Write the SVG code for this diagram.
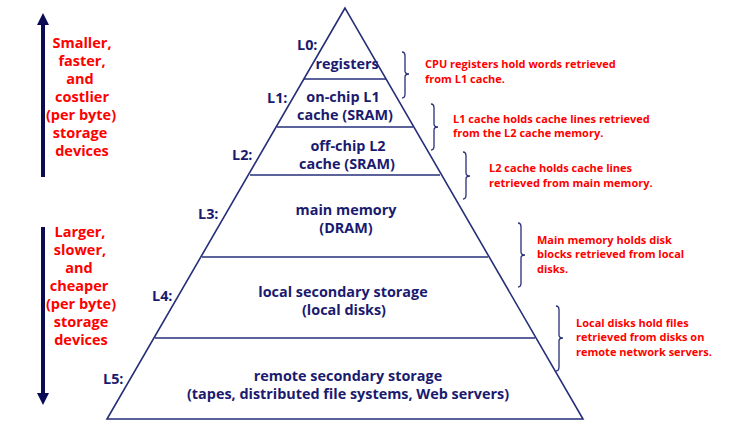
<svg xmlns="http://www.w3.org/2000/svg" width="746" height="433" viewBox="0 0 746 433">
<style>
.lvl{font-family:"Open Sans",Lato,"Liberation Sans",sans-serif;font-weight:700;font-size:14.4px;fill:#1a1a6e;text-anchor:middle}
.lab{font-family:"Open Sans",Lato,"Liberation Sans",sans-serif;font-weight:700;font-size:14.4px;fill:#1a1a6e}
.side{font-family:"Open Sans",Lato,"Liberation Sans",sans-serif;font-weight:700;font-size:14.5px;fill:#ff0000;text-anchor:middle}
.note{font-family:"Open Sans",Lato,"Liberation Sans",sans-serif;font-weight:700;font-size:11px;fill:#ff0000}
.edge{stroke:#262f78;stroke-width:1.6;fill:none}
.brace{stroke:#262f78;stroke-width:1.3;fill:none}
.arr{stroke:#0a0a55;stroke-width:4;fill:none}
</style>
<defs>
<marker id="ah" markerWidth="3" markerHeight="3" refX="0.5" refY="1.5" orient="auto" markerUnits="strokeWidth">
<path d="M0,0 L3,1.5 L0,3 Z" fill="#0a0a55"/>
</marker>
</defs>
<rect width="746" height="433" fill="#fff"/>
<g id="pyramid">
<path class="edge" d="M345,8 L107,419 L583,419 Z"/>
</g>
<g id="L0">
<text class="lab" x="297" y="50">L0:</text>
<text class="lvl" x="347" y="69">registers</text>
<line class="edge" x1="304" y1="79" x2="386" y2="79"/>
</g>
<g id="L1">
<text class="lab" x="267" y="103">L1:</text>
<text class="lvl" x="343" y="102">on-chip L1</text>
<text class="lvl" x="345" y="120">cache (SRAM)</text>
<line class="edge" x1="277" y1="127" x2="413" y2="127"/>
</g>
<g id="L2">
<text class="lab" x="232" y="160">L2:</text>
<text class="lvl" x="348" y="151">off-chip L2</text>
<text class="lvl" x="347" y="169">cache (SRAM)</text>
<line class="edge" x1="250" y1="175" x2="440" y2="175"/>
</g>
<g id="L3">
<text class="lab" x="198" y="219">L3:</text>
<text class="lvl" x="346" y="215">main memory</text>
<text class="lvl" x="346" y="233">(DRAM)</text>
<line class="edge" x1="202" y1="257" x2="488" y2="257"/>
</g>
<g id="L4">
<text class="lab" x="152" y="301">L4:</text>
<text class="lvl" x="343" y="297">local secondary storage</text>
<text class="lvl" x="344" y="315">(local disks)</text>
<line class="edge" x1="155" y1="338" x2="535" y2="338"/>
</g>
<g id="L5">
<text class="lab" x="103" y="384">L5:</text>
<text class="lvl" x="348" y="381">remote secondary storage</text>
<text class="lvl" x="348" y="399">(tapes, distributed file systems, Web servers)</text>
</g>
<g id="connectors">
<line class="arr" x1="43" y1="177" x2="43" y2="23" marker-end="url(#ah)"/>
<line class="arr" x1="43" y1="227" x2="43" y2="395" marker-end="url(#ah)"/>
<path class="brace" d="M402,52 Q405,52 405,56 L405,71 Q405,74 409,74 Q405,74 405,77 L405,94 Q405,98 402,98"/>
<path class="brace" d="M431,104 Q434,104 434,108 L434,124 Q434,127 438,127 Q434,127 434,130 L434,146 Q434,150 431,150"/>
<path class="brace" d="M463,152 Q466,152 466,156 L466,173 Q466,176 470,176 Q466,176 466,179 L466,195 Q466,199 463,199"/>
<path class="brace" d="M518,223 Q521,223 521,227 L521,252 Q521,255 525,255 Q521,255 521,258 L521,283 Q521,287 518,287"/>
<path class="brace" d="M556,306 Q559,306 559,310 L559,335 Q559,338 563,338 Q559,338 559,341 L559,367 Q559,371 556,371"/>
</g>
<g id="side-top">
<text class="side" x="82" y="48">Smaller,</text>
<text class="side" x="82" y="66">faster,</text>
<text class="side" x="80" y="84">and</text>
<text class="side" x="82" y="102">costlier</text>
<text class="side" x="81" y="120">(per byte)</text>
<text class="side" x="80" y="138">storage</text>
<text class="side" x="82" y="156">devices</text>
</g>
<g id="side-bottom">
<text class="side" x="80" y="237">Larger,</text>
<text class="side" x="80" y="255">slower,</text>
<text class="side" x="79" y="273">and</text>
<text class="side" x="79" y="291">cheaper</text>
<text class="side" x="81" y="309">(per byte)</text>
<text class="side" x="81" y="327">storage</text>
<text class="side" x="81" y="345">devices</text>
</g>
<g id="notes">
<text class="note" x="425" y="68">CPU registers hold words retrieved</text>
<text class="note" x="425" y="83">from L1 cache.</text>
<text class="note" x="453" y="123">L1 cache holds cache lines retrieved</text>
<text class="note" x="453" y="137">from the L2 cache memory.</text>
<text class="note" x="489" y="172">L2 cache holds cache lines</text>
<text class="note" x="489" y="187">retrieved from main memory.</text>
<text class="note" x="537" y="244">Main memory holds disk</text>
<text class="note" x="537" y="258">blocks retrieved from local</text>
<text class="note" x="537" y="273">disks.</text>
<text class="note" x="576" y="327">Local disks hold files</text>
<text class="note" x="576" y="341">retrieved from disks on</text>
<text class="note" x="576" y="356">remote network servers.</text>
</g>
</svg>
